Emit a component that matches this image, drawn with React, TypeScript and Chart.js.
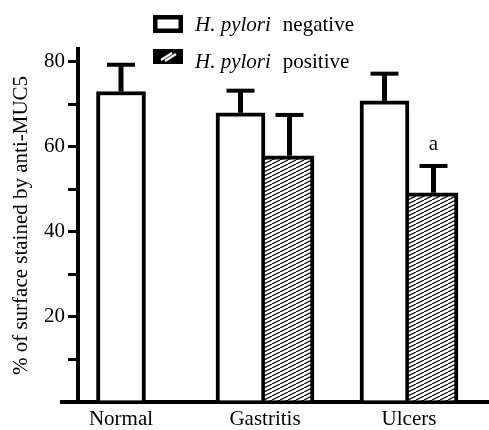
import React, { useEffect, useRef } from 'react';
import { Chart, registerables } from 'chart.js';

Chart.register(...registerables);

const categories = ['Normal', 'Gastritis', 'Ulcers'];
const negativeMeans = [73.0, 68.0, 70.8];
const negativeErrors = [6.3, 5.2, 6.4];
const positiveMeans: (number | null)[] = [null, 57.9, 49.2];
const positiveErrors: (number | null)[] = [null, 9.6, 6.3];
const positiveMarks = ['', '', 'a'];
const yTickValues = [0, 10, 20, 30, 40, 50, 60, 70, 80];
const yLabelValues = [20, 40, 60, 80];
const legendItalic = ['H. pylori', 'H. pylori'];
const legendRest = ['negative', 'positive'];
const yTitle = '% of surface stained by anti-MUC5';

const FONT = '"Liberation Serif", "Times New Roman", serif';

function makeHatch(): CanvasPattern | string {
  const c = document.createElement('canvas');
  c.width = 8;
  c.height = 4;
  const g = c.getContext('2d');
  if (!g) return '#888';
  g.fillStyle = '#fff';
  g.fillRect(0, 0, 8, 4);
  g.strokeStyle = '#111';
  g.lineWidth = 1.2;
  for (const dx of [-8, 0, 8]) {
    g.beginPath();
    g.moveTo(dx, 4);
    g.lineTo(dx + 8, 0);
    g.stroke();
  }
  return g.createPattern(c, 'repeat') || '#888';
}

const errorBarPlugin = {
  id: 'errorBars',
  afterDatasetsDraw(chart: any) {
    const { ctx } = chart;
    const yScale = chart.scales.y;
    const means = [negativeMeans, positiveMeans];
    const errs = [negativeErrors, positiveErrors];
    ctx.save();
    ctx.strokeStyle = '#000';
    ctx.fillStyle = '#000';
    chart.data.datasets.forEach((_: any, di: number) => {
      const meta = chart.getDatasetMeta(di);
      meta.data.forEach((bar: any, i: number) => {
        const m = means[di][i];
        const e = errs[di][i];
        if (m == null || e == null) return;
        const top = yScale.getPixelForValue(m + e);
        const x = bar.x;
        ctx.lineWidth = 5;
        ctx.beginPath();
        ctx.moveTo(x, bar.y);
        ctx.lineTo(x, top);
        ctx.stroke();
        ctx.lineWidth = 4;
        ctx.beginPath();
        ctx.moveTo(x - 14, top);
        ctx.lineTo(x + 14, top);
        ctx.stroke();
        if (di === 1 && positiveMarks[i]) {
          ctx.font = `21px ${FONT}`;
          ctx.textAlign = 'center';
          ctx.textBaseline = 'alphabetic';
          ctx.fillText(positiveMarks[i], x, top - 16);
        }
      });
    });
    ctx.restore();
  },
};

const decorPlugin = {
  id: 'decor',
  afterDraw(chart: any) {
    const { ctx, chartArea } = chart;
    ctx.save();
    // left extension of the baseline
    ctx.strokeStyle = '#000';
    ctx.lineWidth = 4;
    ctx.beginPath();
    ctx.moveTo(chartArea.left - 18, chartArea.bottom);
    ctx.lineTo(chartArea.left, chartArea.bottom);
    ctx.stroke();

    // legend
    const boxX = 153;
    const boxW = 30;
    const textX = 195;
    const baselines = [31, 68];
    ctx.lineWidth = 4.5;
    ctx.strokeRect(boxX + 2.25, 15 + 2.25, boxW - 4.5, 18 - 4.5);
    ctx.fillStyle = '#000';
    ctx.fillRect(boxX, 49, boxW, 15);
    ctx.strokeStyle = '#fff';
    ctx.lineWidth = 2.2;
    ctx.beginPath();
    ctx.moveTo(161, 60);
    ctx.lineTo(172, 53);
    ctx.moveTo(165, 61);
    ctx.lineTo(176, 54);
    ctx.stroke();

    ctx.fillStyle = '#000';
    ctx.textAlign = 'left';
    ctx.textBaseline = 'alphabetic';
    for (let i = 0; i < legendItalic.length; i++) {
      ctx.font = `italic 21px ${FONT}`;
      ctx.fillText(legendItalic[i], textX, baselines[i]);
      const w = ctx.measureText(legendItalic[i]).width;
      ctx.font = `21px ${FONT}`;
      ctx.fillText(legendRest[i], textX + w + 12, baselines[i]);
    }
    ctx.restore();
  },
};

export default function App() {
  const ref = useRef<HTMLCanvasElement>(null);
  useEffect(() => {
    document.body.style.margin = '0';
    if (!ref.current) return;
    const hatch = makeHatch();
    const chart = new Chart(ref.current, {
      type: 'bar',
      data: {
        datasets: [
          {
            label: 'H. pylori negative',
            data: categories.map((_, i) => ({ x: i, y: negativeMeans[i] })) as any,
            backgroundColor: '#fff',
            borderColor: '#000',
            borderWidth: { top: 4, left: 4, right: 4, bottom: 0 },
            borderSkipped: false,
            barThickness: 49,
            skipNull: true,
          } as any,
          {
            label: 'H. pylori positive',
            data: categories.map((_, i) => ({ x: i, y: positiveMeans[i] })) as any,
            backgroundColor: hatch as any,
            borderColor: '#000',
            borderWidth: { top: 4, left: 0, right: 4, bottom: 0 },
            borderSkipped: false,
            barThickness: 49,
            skipNull: true,
          } as any,
        ],
      },
      options: {
        responsive: false,
        animation: false,
        layout: { padding: { top: 49, left: 0, right: 0, bottom: 0 } },
        plugins: {
          legend: { display: false },
          tooltip: { enabled: false },
        },
        scales: {
          x: {
            type: 'linear',
            min: -0.2986,
            max: 2.5556,
            offset: false,
            z: 1,
            afterBuildTicks: (s: any) => {
              s.ticks = categories.map((_, i) => ({ value: i }));
            },
            afterFit: (s: any) => {
              s.height = 28;
            },
            ticks: {
              callback: (v: any) => categories[v] ?? '',
              color: '#000',
              font: { family: FONT, size: 21 },
              padding: 5,
              autoSkip: false,
              maxRotation: 0,
            },
            grid: { display: false, drawTicks: false },
            border: { display: true, width: 4, color: '#000' },
          } as any,
          y: {
            type: 'linear',
            min: 0,
            max: 83,
            afterBuildTicks: (s: any) => {
              s.ticks = yTickValues.map((v) => ({ value: v }));
            },
            afterFit: (s: any) => {
              s.width = 78;
            },
            ticks: {
              callback: (v: any) => (yLabelValues.includes(v) ? String(v) : ''),
              color: '#000',
              font: { family: FONT, size: 21 },
              padding: 3,
              autoSkip: false,
            },
            grid: { drawOnChartArea: false, drawTicks: true, tickLength: 10, lineWidth: 3, color: '#000' },
            border: { display: true, width: 4, color: '#000' },
            title: {
              display: true,
              text: yTitle,
              color: '#000',
              font: { family: FONT, size: 21 },
              padding: { top: 9, bottom: 0 },
            },
          } as any,
        },
      },
      plugins: [errorBarPlugin, decorPlugin],
    });
    return () => chart.destroy();
  }, []);
  return (
    <div style={{ position: 'absolute', left: 0, top: 0, width: 489, height: 430, background: '#fff' }}>
      <canvas ref={ref} width={489} height={430} style={{ display: 'block', width: 489, height: 430 }} />
    </div>
  );
}
